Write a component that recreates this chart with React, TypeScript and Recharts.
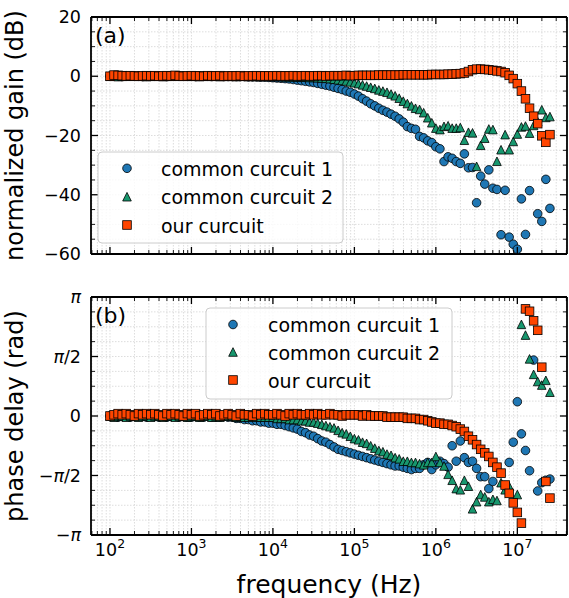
import React from 'react';
import { ScatterChart, Scatter, XAxis, YAxis, CartesianGrid } from 'recharts';

// log10 of frequency (Hz) for every measured point
const logFreq = [
  2.00, 2.05, 2.10, 2.15, 2.20, 2.25, 2.30, 2.35, 2.40, 2.45,
  2.50, 2.55, 2.60, 2.65, 2.70, 2.75, 2.80, 2.85, 2.90, 2.95,
  3.00, 3.05, 3.10, 3.15, 3.20, 3.25, 3.30, 3.35, 3.40, 3.45,
  3.50, 3.55, 3.60, 3.65, 3.70, 3.75, 3.80, 3.85, 3.90, 3.95,
  4.00, 4.05, 4.10, 4.15, 4.20, 4.25, 4.30, 4.35, 4.40, 4.45,
  4.50, 4.55, 4.60, 4.65, 4.70, 4.75, 4.80, 4.85, 4.90, 4.95,
  5.00, 5.05, 5.10, 5.15, 5.20, 5.25, 5.30, 5.35, 5.40, 5.45,
  5.50, 5.55, 5.60, 5.65, 5.70, 5.75, 5.80, 5.85, 5.90, 5.95,
  6.00, 6.05, 6.10, 6.15, 6.20, 6.25, 6.30, 6.35, 6.40, 6.45,
  6.50, 6.55, 6.60, 6.65, 6.70, 6.75, 6.80, 6.85, 6.90, 6.95,
  7.00, 7.05, 7.10, 7.15, 7.20, 7.25, 7.30, 7.35, 7.40,
];

// normalized gain (dB)
const gainCommon1 = [
  0.0, 0.1, 0.0, -0.1, 0.0, 0.1, 0.0, 0.0, -0.1, 0.0,
  0.0, 0.0, 0.1, 0.0, -0.1, 0.0, 0.0, 0.1, 0.0, 0.0,
  0.0, -0.1, 0.0, 0.0, 0.0, -0.1, 0.0, 0.0, -0.1, -0.1,
  -0.1, -0.1, -0.1, -0.1, -0.2, -0.2, -0.2, -0.3, -0.3, -0.4,
  -0.5, -0.6, -0.7, -0.8, -0.9, -1.1, -1.3, -1.5, -1.7, -1.9,
  -2.1, -2.4, -2.7, -3.0, -3.3, -3.7, -4.1, -4.5, -5.0, -5.4,
  -6.0, -6.7, -7.6, -8.4, -9.3, -10.0, -10.8, -11.5, -12.1, -12.8,
  -13.5, -14.4, -15.5, -17.0, -17.6, -17.9, -20.3, -20.8, -21.8, -22.4,
  -23.8, -24.5, -28.8, -27.2, -27.7, -28.8, -29.4, -26.2, -30.9, -30.8,
  -42.7, -33.7, -36.4, -31.6, -37.8, -38.2, -53.5, -38.5, -54.3, -56.7,
  -58.4, -41.4, -53.4, -38.6, null, -46.4, -49.0, -34.8, -44.6,
];
const gainCommon2 = [
  0.0, 0.0, -0.1, 0.0, 0.0, 0.1, 0.0, 0.0, 0.0, -0.1,
  0.0, 0.0, 0.0, -0.1, 0.0, 0.0, 0.1, 0.0, 0.0, 0.0,
  0.0, 0.0, -0.1, 0.0, 0.0, 0.0, 0.0, -0.1, 0.0, 0.0,
  0.0, -0.1, 0.0, 0.0, -0.1, 0.0, -0.1, -0.1, 0.0, -0.1,
  -0.1, -0.1, -0.1, -0.2, -0.2, -0.2, -0.3, -0.3, -0.3, -0.4,
  -0.4, -0.5, -0.6, -0.7, -0.8, -1.0, -1.2, -1.4, -1.6, -1.9,
  -2.2, -2.5, -2.9, -3.3, -3.7, -4.1, -4.6, -5.0, -5.4, -6.0,
  -6.6, -7.4, -8.4, -9.2, -10.0, -10.8, -11.2, -12.3, -14.0, -15.7,
  -17.5, -18.0, -16.9, -16.7, -17.5, -17.5, -17.3, -21.6, -18.9, -19.1,
  -30.4, -23.3, -20.9, -17.8, -18.0, -28.7, -24.8, -19.7, -24.8, -22.0,
  -19.5, -17.1, -16.8, -19.2, -16.6, -15.3, -11.3, -13.9, -13.6,
];
const gainOurs = [
  0.0, 0.4, 0.3, 0.2, 0.1, 0.2, 0.1, 0.0, 0.1, 0.2,
  0.1, 0.2, 0.0, 0.1, 0.2, 0.1, 0.3, 0.1, 0.0, 0.1,
  0.2, 0.1, 0.1, 0.0, 0.2, 0.1, 0.1, 0.2, 0.0, 0.1,
  0.1, 0.1, 0.2, 0.0, 0.1, 0.1, 0.2, 0.1, 0.1, 0.1,
  0.1, 0.2, 0.1, 0.1, 0.1, 0.2, 0.1, 0.1, 0.2, 0.1,
  0.1, 0.2, 0.2, 0.1, 0.2, 0.2, 0.2, 0.2, 0.3, 0.2,
  0.2, 0.3, 0.3, 0.3, 0.3, 0.3, 0.4, 0.4, 0.4, 0.4,
  0.4, 0.4, 0.5, 0.5, 0.5, 0.5, 0.5, 0.5, 0.5, 0.6,
  0.6, 0.6, 0.6, 0.7, 0.7, 0.8, 0.9, 1.1, 1.6, 2.2,
  2.4, 2.4, 2.3, 2.2, 2.0, 1.8, 1.6, 1.2, 0.3, -0.8,
  -2.5, -5.0, -7.6, -10.8, -13.5, -16.0, -20.1, -22.3, -19.7,
];

// phase delay, in units of pi (rad / pi)
const phaseCommon1 = [
  0.0, 0.0, -0.01, 0.0, 0.0, -0.01, 0.0, 0.0, 0.0, -0.01,
  0.0, 0.0, -0.01, 0.0, -0.01, 0.0, 0.0, -0.01, 0.0, -0.01,
  -0.01, 0.0, -0.01, -0.01, 0.0, -0.01, -0.01, -0.01, 0.0, -0.01,
  -0.01, -0.02, -0.02, -0.03, -0.03, -0.04, -0.04, -0.05, -0.05, -0.06,
  -0.06, -0.07, -0.07, -0.08, -0.09, -0.10, -0.11, -0.13, -0.14, -0.16,
  -0.17, -0.19, -0.21, -0.22, -0.24, -0.26, -0.28, -0.29, -0.30, -0.31,
  -0.32, -0.33, -0.34, -0.35, -0.36, -0.37, -0.38, -0.39, -0.40, -0.41,
  -0.42, -0.42, -0.43, -0.44, -0.45, -0.44, -0.44, -0.41, -0.39, -0.45,
  -0.41, -0.38, -0.40, -0.43, -0.25, -0.38, -0.21, -0.35, -0.39, -0.38,
  -0.44, -0.51, -0.51, -0.61, -0.55, null, null, null, -0.39, -0.22,
  0.12, -0.15, -0.29, -0.46, 0.47, -0.63, -0.56, -0.54, -0.53,
];
const phaseCommon2 = [
  0.0, -0.01, 0.0, 0.0, -0.01, 0.0, 0.0, -0.01, 0.0, 0.0,
  -0.01, 0.0, 0.0, -0.01, 0.0, 0.0, -0.01, 0.0, 0.0, -0.01,
  0.0, 0.0, -0.01, 0.0, 0.0, -0.01, 0.0, -0.01, 0.0, 0.0,
  0.0, -0.01, 0.0, -0.01, -0.01, 0.0, -0.01, -0.01, -0.01, -0.01,
  -0.01, -0.02, -0.02, -0.02, -0.03, -0.03, -0.03, -0.04, -0.04, -0.05,
  -0.05, -0.06, -0.07, -0.08, -0.09, -0.10, -0.12, -0.14, -0.15, -0.17,
  -0.19, -0.20, -0.22, -0.23, -0.25, -0.27, -0.29, -0.30, -0.32, -0.33,
  -0.35, -0.36, -0.38, -0.38, -0.39, -0.39, -0.40, -0.41, -0.39, -0.39,
  -0.34, -0.39, -0.42, -0.49, -0.54, -0.61, -0.62, -0.54, -0.59, -0.78,
  -0.72, -0.66, -0.68, -0.72, -0.70, -0.71, -0.56, -0.62, -0.59, null,
  -0.66, 0.77, 0.68, 0.48, 0.35, 0.29, 0.26, 0.30, 0.20,
];
const phaseOurs = [
  0.0, 0.01, 0.02, 0.01, 0.02, 0.01, 0.0, 0.02, 0.01, 0.02,
  0.01, 0.02, 0.01, 0.0, 0.02, 0.01, 0.02, 0.01, 0.0, 0.02,
  0.01, 0.02, 0.0, 0.01, 0.02, 0.01, 0.02, 0.0, 0.01, 0.02,
  0.01, 0.0, 0.02, 0.01, 0.01, 0.0, 0.02, 0.01, 0.02, 0.01,
  0.01, 0.02, 0.01, 0.0, 0.02, 0.01, 0.02, 0.01, 0.01, 0.02,
  0.01, 0.02, 0.01, 0.01, 0.02, 0.01, 0.01, 0.0, 0.01, 0.01,
  0.01, 0.01, 0.0, 0.01, 0.0, 0.0, 0.0, 0.0, -0.01, -0.01,
  -0.01, -0.01, -0.01, -0.02, -0.02, -0.02, -0.03, -0.03, -0.04, -0.05,
  -0.06, -0.06, -0.07, -0.07, -0.08, -0.09, -0.11, -0.13, -0.17, -0.20,
  -0.24, -0.28, -0.31, -0.34, -0.39, -0.43, -0.48, -0.58, -0.65, -0.73,
  -0.81, -0.90, 0.90, 0.88, 0.80, 0.72, 0.41, -0.55, -0.69,
];

const seriesNames = ['common curcuit 1', 'common curcuit 2', 'our curcuit'];
const gainTickLabels = ['\u221260', '\u221240', '\u221220', '0', '20'];

const FONT = '"DejaVu Sans", Verdana, sans-serif';
const BLUE = '#1f77b4';
const GREEN = '#17976e';
const ORANGE = '#ff4500';
const X_MIN = 58.5;
const X_MAX = 4.07e7;
const MS = 8.6;

const xTicks: number[] = [];
for (let d = 1; d <= 7; d++) {
  for (let m = 1; m <= 9; m++) {
    const v = m * Math.pow(10, d);
    if (v >= X_MIN && v <= X_MAX) xTicks.push(v);
  }
}
const gainTicks: number[] = [];
for (let v = -60; v <= 20; v += 5) gainTicks.push(v);
const phaseTicks: number[] = [];
for (let k = -8; k <= 8; k++) phaseTicks.push((k * Math.PI) / 8);

const toPoints = (vals: (number | null)[], scale = 1) => {
  const out: { f: number; v: number }[] = [];
  logFreq.forEach((e, i) => {
    const v = vals[i];
    if (v !== null && v !== undefined) out.push({ f: Math.pow(10, e), v: v * scale });
  });
  return out;
};

const CircleMark = ({ cx, cy }: any) => (
  <circle cx={cx} cy={cy} r={MS / 2} fill={BLUE} stroke="#000" strokeWidth={0.8} />
);
const TriMark = ({ cx, cy }: any) => {
  const h = MS / 2;
  return (
    <polygon
      points={`${cx},${cy - h} ${cx - h},${cy + h} ${cx + h},${cy + h}`}
      fill={GREEN}
      stroke="#000"
      strokeWidth={0.8}
    />
  );
};
const SquareMark = ({ cx, cy }: any) => (
  <rect x={cx - MS / 2} y={cy - MS / 2} width={MS} height={MS} fill={ORANGE} stroke="#000" strokeWidth={0.8} />
);
const markers = [CircleMark, TriMark, SquareMark];

const isMajorX = (v: number) => {
  const e = Math.log10(v);
  return Math.abs(e - Math.round(e)) < 1e-6;
};

const makeXTick = (side: 'bottom' | 'top', labels: boolean) => (props: any) => {
  const { x, y, payload } = props;
  const v = payload.value;
  const major = isMajorX(v);
  const len = major ? 7 : 4;
  const dir = side === 'bottom' ? -1 : 1;
  return (
    <g>
      <line x1={x} x2={x} y1={y} y2={y + dir * len} stroke="#000" strokeWidth={major ? 1.3 : 0.9} />
      {labels && major && (
        <text x={x} y={y + 21} textAnchor="middle" fontFamily={FONT} fontSize={17.5} fill="#000">
          10
          <tspan dy={-8} fontSize={12.5}>
            {Math.round(Math.log10(v))}
          </tspan>
        </text>
      )}
    </g>
  );
};

const isMajorGain = (v: number) => Math.abs(v % 20) < 1e-6;
const isMajorPhase = (v: number) => {
  const q = v / (Math.PI / 2);
  return Math.abs(q - Math.round(q)) < 1e-6;
};

const gainLabel = (v: number) => gainTickLabels[Math.round((v + 60) / 20)];
const phaseLabel = (v: number) => {
  const k = Math.round(v / (Math.PI / 2));
  const pi = <tspan fontStyle="italic">π</tspan>;
  if (k === 0) return '0';
  if (k === 2) return pi;
  if (k === -2) return <>{'\u2212'}{pi}</>;
  if (k === 1) return <>{pi}/2</>;
  return <>{'\u2212'}{pi}/2</>;
};

const makeYTick = (side: 'left' | 'right', isMajor: (v: number) => boolean, labeler?: (v: number) => any) => (props: any) => {
  const { x, y, payload } = props;
  const v = payload.value;
  const major = isMajor(v);
  const len = major ? 7 : 4;
  const dir = side === 'left' ? 1 : -1;
  return (
    <g>
      <line x1={x} x2={x + dir * len} y1={y} y2={y} stroke="#000" strokeWidth={major ? 1.3 : 0.9} />
      {labeler && major && (
        <text x={x - 10} y={y + 6} textAnchor="end" fontFamily={FONT} fontSize={17.5} fill="#000">
          {labeler(v)}
        </text>
      )}
    </g>
  );
};

const frameLine = { stroke: '#000', strokeWidth: 1.8 };

function Panel(props: {
  top: number;
  height: number;
  bottom: number;
  domain: [number, number];
  ticks: number[];
  isMajor: (v: number) => boolean;
  labeler: (v: number) => any;
  sets: { f: number; v: number }[][];
  xLabels: boolean;
}) {
  const { top, height, bottom, domain, ticks, isMajor, labeler, sets, xLabels } = props;
  return (
    <div style={{ position: 'absolute', left: 0, top }}>
      <ScatterChart width={569} height={height} margin={{ top: 16, right: 1, bottom: bottom - 1, left: 31 }}>
        <CartesianGrid stroke="#d4d4d4" strokeWidth={0.8} strokeDasharray="1.5 1.5" />
        <XAxis
          dataKey="f"
          type="number"
          scale="log"
          domain={[X_MIN, X_MAX]}
          allowDataOverflow
          ticks={xTicks}
          interval={0}
          height={1}
          tickSize={0}
          tickMargin={0}
          tickLine={false}
          axisLine={frameLine}
          tick={makeXTick('bottom', xLabels)}
        />
        <XAxis
          xAxisId="top"
          orientation="top"
          dataKey="f"
          type="number"
          scale="log"
          domain={[X_MIN, X_MAX]}
          allowDataOverflow
          ticks={xTicks}
          interval={0}
          height={1}
          tickSize={0}
          tickMargin={0}
          tickLine={false}
          axisLine={frameLine}
          tick={makeXTick('top', false)}
        />
        <YAxis
          dataKey="v"
          type="number"
          domain={domain}
          allowDataOverflow
          ticks={ticks}
          interval={0}
          width={60}
          tickSize={0}
          tickMargin={0}
          tickLine={false}
          axisLine={frameLine}
          tick={makeYTick('left', isMajor, labeler)}
        />
        <YAxis
          yAxisId="right"
          orientation="right"
          dataKey="v"
          type="number"
          domain={domain}
          allowDataOverflow
          ticks={ticks}
          interval={0}
          width={1}
          tickSize={0}
          tickMargin={0}
          tickLine={false}
          axisLine={frameLine}
          tick={makeYTick('right', isMajor)}
        />
        {sets.map((d, i) => {
          const M = markers[i];
          return (
            <Scatter
              key={seriesNames[i]}
              name={seriesNames[i]}
              data={d}
              isAnimationActive={false}
              shape={(p: any) => <M cx={p.cx} cy={p.cy} />}
            />
          );
        })}
      </ScatterChart>
    </div>
  );
}

function LegendBox({ x, y, w, h, markerX, textX, rows }: any) {
  return (
    <g>
      <rect x={x} y={y} width={w} height={h} rx={4} ry={4} fill="rgba(255,255,255,0.8)" stroke="#cccccc" strokeWidth={1} />
      {seriesNames.map((n, i) => {
        const M = markers[i];
        const cy = rows[i];
        return (
          <g key={n}>
            <M cx={markerX} cy={cy} />
            <text x={textX} y={cy + 7.5} fontFamily={FONT} fontSize={19} fill="#000">
              {n}
            </text>
          </g>
        );
      })}
    </g>
  );
}

export default function App() {
  const gainSets = [toPoints(gainCommon1), toPoints(gainCommon2), toPoints(gainOurs)];
  const phaseSets = [
    toPoints(phaseCommon1, Math.PI),
    toPoints(phaseCommon2, Math.PI),
    toPoints(phaseOurs, Math.PI),
  ];
  return (
    <div style={{ position: 'absolute', left: 0, top: 0, width: 569, height: 598, background: '#fff' }}>
      <Panel
        top={0}
        height={280}
        bottom={26}
        domain={[-60, 20]}
        ticks={gainTicks}
        isMajor={isMajorGain}
        labeler={gainLabel}
        sets={gainSets}
        xLabels={false}
      />
      <Panel
        top={280}
        height={318}
        bottom={63}
        domain={[-Math.PI, Math.PI]}
        ticks={phaseTicks}
        isMajor={isMajorPhase}
        labeler={phaseLabel}
        sets={phaseSets}
        xLabels={true}
      />
      <svg
        width={569}
        height={598}
        style={{ position: 'absolute', left: 0, top: 0, pointerEvents: 'none' }}
      >
        <text x={95} y={42.5} fontFamily={FONT} fontSize={22} fill="#000">(a)</text>
        <text x={95} y={322.5} fontFamily={FONT} fontSize={22} fill="#000">(b)</text>
        <text transform="translate(23,135.5) rotate(-90)" textAnchor="middle" fontFamily={FONT} fontSize={24} fill="#000">
          normalized gain (dB)
        </text>
        <text transform="translate(23,416) rotate(-90)" textAnchor="middle" fontFamily={FONT} fontSize={24} fill="#000">
          phase delay (rad)
        </text>
        <text x={329} y={593} textAnchor="middle" fontFamily={FONT} fontSize={25} fill="#000">
          frequency (Hz)
        </text>
        <LegendBox x={98} y={152} w={245} h={91} markerX={127} textX={161} rows={[168.3, 196.7, 225]} />
        <LegendBox x={206} y={308} w={246} h={91} markerX={233} textX={268} rows={[324.5, 352, 380]} />
      </svg>
    </div>
  );
}
